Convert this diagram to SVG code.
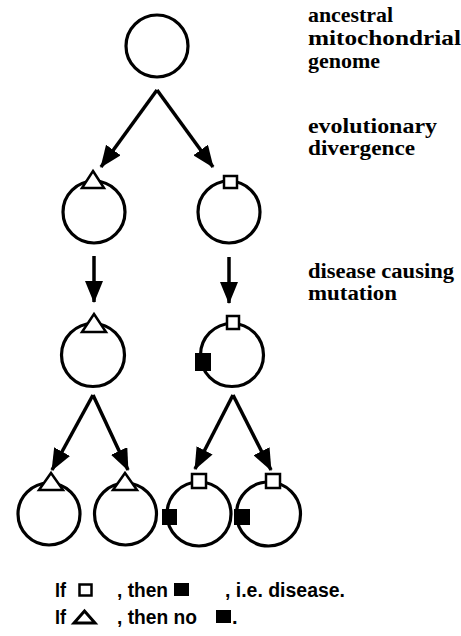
<svg xmlns="http://www.w3.org/2000/svg" width="461" height="636" viewBox="0 0 461 636">
<style>
.c{fill:none;stroke:#000;stroke-width:3.2}
.tri{fill:#fff;stroke:#000;stroke-width:2.5;stroke-linejoin:miter}
.sq{fill:#fff;stroke:#000;stroke-width:2.5}
.fsq{fill:#000;stroke:none}
.ln{stroke:#000;stroke-width:3.5;fill:none}
.lbl{font-family:"Liberation Serif","Times New Roman",serif;font-weight:bold;font-size:20px;fill:#000}
.lg{font-family:"Liberation Sans",Arial,sans-serif;font-weight:bold;font-size:20px;fill:#000}
</style>
<defs>
<marker id="ah" markerUnits="userSpaceOnUse" markerWidth="22" markerHeight="18" viewBox="0 0 22 18" refX="21" refY="9" orient="auto">
<path d="M0,0 L22,9 L0,18 Z" fill="#000"/>
</marker>
</defs>
<g id="connectors">
<line class="ln" x1="157" y1="90" x2="101" y2="167" stroke-width="4" marker-end="url(#ah)"/>
<line class="ln" x1="157" y1="90" x2="213" y2="167" stroke-width="4" marker-end="url(#ah)"/>
<line class="ln" x1="94" y1="256" x2="94" y2="302" stroke-width="3" marker-end="url(#ah)"/>
<line class="ln" x1="229" y1="257" x2="229" y2="303" stroke-width="3" marker-end="url(#ah)"/>
<line class="ln" x1="93" y1="395" x2="52" y2="470" marker-end="url(#ah)"/>
<line class="ln" x1="93" y1="395" x2="128" y2="470" marker-end="url(#ah)"/>
<line class="ln" x1="233" y1="395" x2="195" y2="469" marker-end="url(#ah)"/>
<line class="ln" x1="233" y1="395" x2="271" y2="470" marker-end="url(#ah)"/>
</g>
<g id="ancestral">
<circle class="c" cx="157" cy="46" r="31"/>
</g>
<g id="div-left">
<circle class="c" cx="94" cy="212" r="31"/>
<polygon class="tri" points="93,171 104,188 82,188"/>
</g>
<g id="div-right">
<circle class="c" cx="229" cy="212" r="31"/>
<rect class="sq" x="224" y="176" width="13" height="12"/>
</g>
<g id="mut-left">
<circle class="c" cx="93" cy="355" r="31.5"/>
<polygon class="tri" points="94,314 106,332 82,332"/>
</g>
<g id="mut-right">
<circle class="c" cx="232" cy="355" r="31.5"/>
<rect class="sq" x="227" y="316" width="12" height="13"/>
<rect class="fsq" x="195" y="353" width="16" height="18"/>
</g>
<g id="leaf1">
<circle class="c" cx="49" cy="514" r="31"/>
<polygon class="tri" points="51,473 63,490 39,490"/>
</g>
<g id="leaf2">
<circle class="c" cx="125.5" cy="514" r="31"/>
<polygon class="tri" points="125,473 137,490 113,490"/>
</g>
<g id="leaf3">
<circle class="c" cx="199" cy="514" r="32"/>
<rect class="sq" x="192" y="474" width="14" height="14"/>
<rect class="fsq" x="162" y="509" width="15" height="16"/>
</g>
<g id="leaf4">
<circle class="c" cx="268.5" cy="514" r="32"/>
<rect class="sq" x="266" y="474" width="14" height="14"/>
<rect class="fsq" x="234" y="509" width="16" height="16"/>
</g>
<g id="labels">
<text class="lbl" x="308" y="22" textLength="85" lengthAdjust="spacingAndGlyphs">ancestral</text>
<text class="lbl" x="308" y="45" textLength="153" lengthAdjust="spacingAndGlyphs">mitochondrial</text>
<text class="lbl" x="308" y="68" textLength="72" lengthAdjust="spacingAndGlyphs">genome</text>
<text class="lbl" x="308" y="133" textLength="129" lengthAdjust="spacingAndGlyphs">evolutionary</text>
<text class="lbl" x="308" y="155" textLength="107" lengthAdjust="spacingAndGlyphs">divergence</text>
<text class="lbl" x="308" y="278" textLength="146" lengthAdjust="spacingAndGlyphs">disease causing</text>
<text class="lbl" x="308" y="300" textLength="89" lengthAdjust="spacingAndGlyphs">mutation</text>
</g>
<g id="legend">
<text class="lg" x="55" y="597" textLength="11" lengthAdjust="spacingAndGlyphs">If</text>
<rect class="sq" x="79.5" y="584.5" width="12" height="11"/>
<text class="lg" x="117" y="597" textLength="51" lengthAdjust="spacingAndGlyphs">, then</text>
<rect class="fsq" x="174" y="583" width="15" height="13"/>
<text class="lg" x="225" y="597" textLength="120" lengthAdjust="spacingAndGlyphs">, i.e. disease.</text>
<text class="lg" x="55" y="624" textLength="11" lengthAdjust="spacingAndGlyphs">If</text>
<polygon points="84.5,611 95,623 74,623" fill="#fff" stroke="#000" stroke-width="3"/>
<text class="lg" x="117" y="624" textLength="80" lengthAdjust="spacingAndGlyphs">, then no</text>
<rect class="fsq" x="216" y="610" width="15" height="13"/>
<text class="lg" x="232" y="624">.</text>
</g>
</svg>
